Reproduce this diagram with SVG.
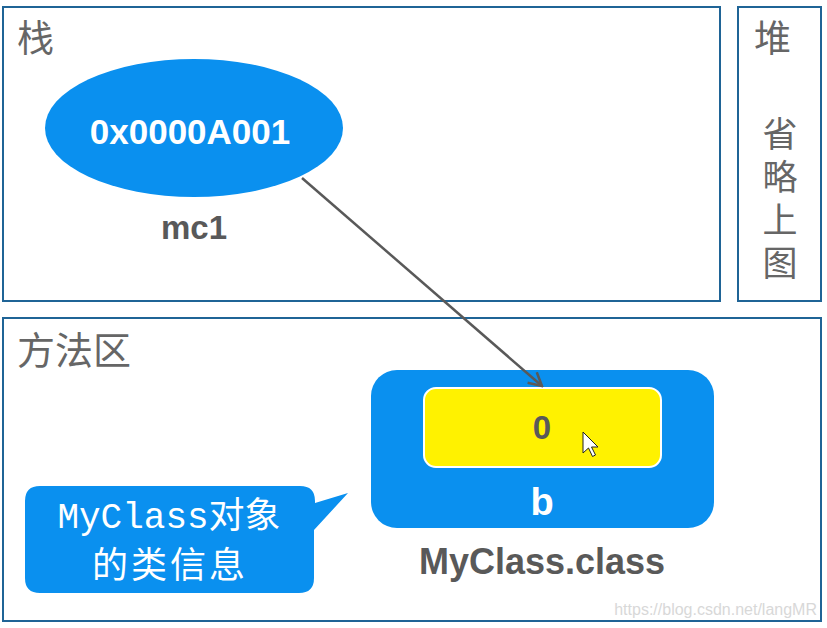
<svg xmlns="http://www.w3.org/2000/svg" width="827" height="628" viewBox="0 0 827 628">
<defs>
<style>
.frame{fill:#fff;stroke:#1f6496;stroke-width:2}
.title{font-family:"Noto Sans CJK SC","Noto Sans CJK JP",sans-serif;font-size:37px;fill:#666;font-weight:400}
.bold{font-family:"Liberation Sans",Arial,sans-serif;font-weight:bold;text-anchor:middle}
.blue{fill:#0a90ef}
</style>
<marker id="arr" markerWidth="16" markerHeight="16" viewBox="0 0 16 16" refX="14" refY="8" orient="auto" markerUnits="userSpaceOnUse">
<path d="M1,1 L14,8 L1,15" fill="none" stroke="#595959" stroke-width="2.5"/>
</marker>
</defs>
<rect width="827" height="628" fill="#fff"/>
<g id="stack">
<rect class="frame" x="3" y="7" width="717" height="294"/>
<text class="title" x="17" y="52">栈</text>
</g>
<g id="heap">
<rect class="frame" x="738" y="7" width="83" height="294"/>
<text class="title" x="754" y="52">堆</text>
<text class="title" x="780" y="116" style="writing-mode:vertical-rl;font-size:35px" letter-spacing="8">省略上图</text>
</g>
<g id="method-area">
<rect class="frame" x="3" y="318" width="818" height="303"/>
<text class="title" x="17" y="364" style="font-size:38px">方法区</text>
</g>
<g id="mc1">
<ellipse class="blue" cx="194" cy="128" rx="149" ry="69"/>
<text class="bold" x="190" y="144" font-size="35" fill="#fff">0x0000A001</text>
<text class="bold" x="194" y="239" font-size="33" fill="#595959">mc1</text>
</g>
<g id="myclass">
<rect class="blue" x="371" y="370" width="343" height="158" rx="26"/>
<rect x="424" y="388" width="237" height="79" rx="12" fill="#fff200" stroke="#fff" stroke-width="2"/>
<text class="bold" x="542" y="439" font-size="33" fill="#595959">0</text>
<text class="bold" x="542" y="515" font-size="38" fill="#fff">b</text>
<text class="bold" x="542" y="574" font-size="36" fill="#595959">MyClass.class</text>
</g>
<g id="callout">
<path class="blue" d="M40,486 H300 Q315,486 315,501 V503 L348,493 L314,530 V578 Q314,593 299,593 H40 Q25,593 25,578 V501 Q25,486 40,486 Z"/>
<text x="169" y="528" font-family="'Liberation Mono','Noto Sans CJK SC',monospace" font-size="36" fill="#fff" text-anchor="middle">MyClass对象</text>
<text x="170" y="578" font-family="'Noto Sans CJK SC',sans-serif" font-size="36" fill="#fff" text-anchor="middle" letter-spacing="3">的类信息</text>
</g>
<g id="connectors">
<line x1="302" y1="178" x2="542" y2="386" stroke="#595959" stroke-width="2.5" marker-end="url(#arr)"/>
</g>
<g id="cursor">
<path d="M583,432 V453 L588.5,448 L592.5,456.5 L595.5,455 L591.5,447 L598,447 Z" fill="#fff" stroke="#222" stroke-width="1"/>
</g>
<text x="817" y="615" font-family="'Liberation Sans',Arial,sans-serif" font-size="16" fill="#d8d8d8" text-anchor="end">https://blog.csdn.net/langMR</text>
</svg>
